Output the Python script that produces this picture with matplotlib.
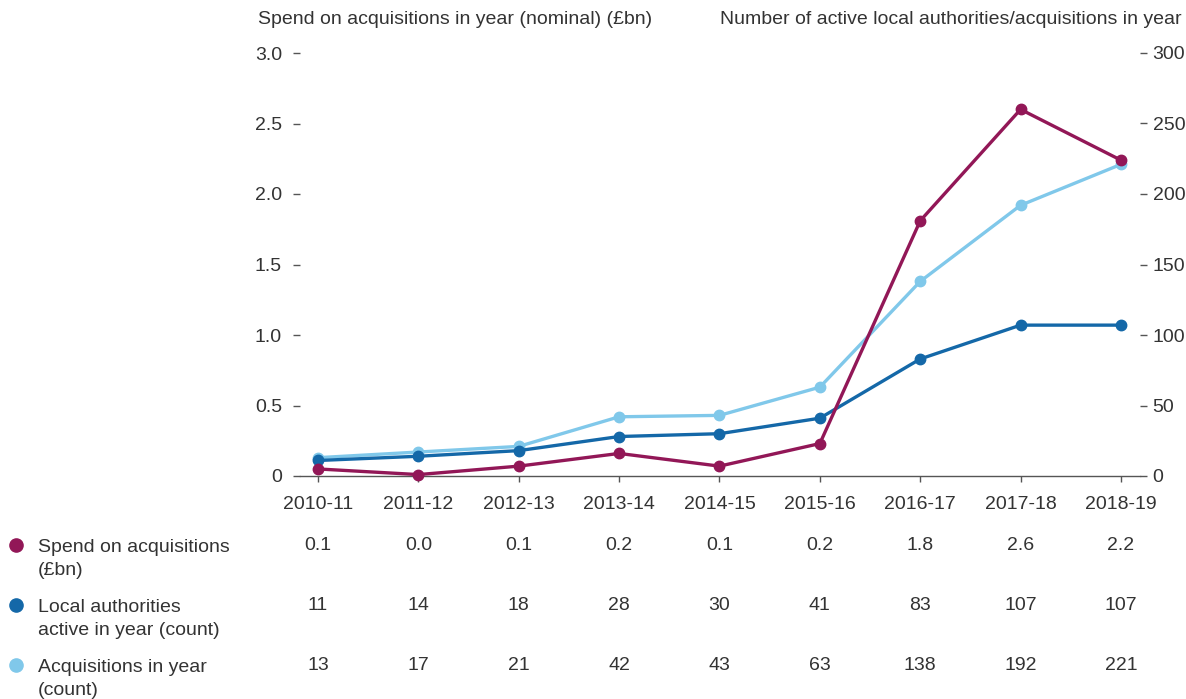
import matplotlib
matplotlib.use('Agg')
import matplotlib.pyplot as plt
import matplotlib.transforms as mtransforms

plt.rcParams['font.family'] = ['Liberation Sans', 'DejaVu Sans']

years = ['2010-11', '2011-12', '2012-13', '2013-14', '2014-15',
         '2015-16', '2016-17', '2017-18', '2018-19']
spend = [0.05, 0.01, 0.07, 0.16, 0.07, 0.23, 1.81, 2.60, 2.24]
las_active = [11, 14, 18, 28, 30, 41, 83, 107, 107]
acquisitions = [13, 17, 21, 42, 43, 63, 138, 192, 221]

spend_labels = ['0.1', '0.0', '0.1', '0.2', '0.1', '0.2', '1.8', '2.6', '2.2']

row_names = ['Spend on acquisitions\n(£bn)',
             'Local authorities\nactive in year (count)',
             'Acquisitions in year\n(count)']

maroon = '#921757'
dark_blue = '#1468a8'
light_blue = '#80c8ea'
text_col = '#333333'
axis_col = '#555555'
fs = 14

W, H = 1186, 699
fig = plt.figure(figsize=(W / 100, H / 100), dpi=100)
ax = fig.add_axes([300 / W, 1 - 476 / H, (1140 - 300) / W, (476 - 53) / H])
ax2 = ax.twinx()

x = list(range(len(years)))

ax2.plot(x, acquisitions, color=light_blue, lw=2.4, marker='o', ms=7.5, clip_on=False, zorder=3)
ax2.plot(x, las_active, color=dark_blue, lw=2.4, marker='o', ms=7.5, clip_on=False, zorder=4)
# spend on left scale, drawn on top
ax3 = ax.twinx()
ax3.set_ylim(0, 3)
ax3.axis('off')
ax3.plot(x, spend, color=maroon, lw=2.4, marker='o', ms=7.5, clip_on=False, zorder=5)

ax.set_xlim(-0.18, 8.19)
ax.set_ylim(0, 3)
ax2.set_ylim(0, 300)
ax3.set_xlim(-0.18, 8.19)

for a in (ax, ax2):
    for s in a.spines.values():
        s.set_visible(False)
ax.spines['bottom'].set_visible(True)
ax.spines['bottom'].set_color(axis_col)
ax.spines['bottom'].set_linewidth(1.0)

ax.set_xticks(x)
ax.set_xticklabels(years)
ax.set_yticks([0, 0.5, 1.0, 1.5, 2.0, 2.5, 3.0])
ax.set_yticklabels(['0', '0.5', '1.0', '1.5', '2.0', '2.5', '3.0'])
ax2.set_yticks([0, 50, 100, 150, 200, 250, 300])

ax.tick_params(axis='x', direction='out', length=4.5, width=1.0, color=axis_col,
               pad=10, labelsize=fs, labelcolor=text_col)
ax.tick_params(axis='y', direction='out', length=5, width=1.0, color=axis_col,
               pad=8, labelsize=fs, labelcolor=text_col)
ax2.tick_params(axis='y', direction='out', length=5, width=1.0, color=axis_col,
                pad=4, labelsize=fs, labelcolor=text_col)

fig.text(258 / W, 1 - 20 / H, 'Spend on acquisitions in year (nominal) (£bn)',
         ha='left', va='center', fontsize=fs, color=text_col)
fig.text(1182 / W, 1 - 20 / H, 'Number of active local authorities/acquisitions in year',
         ha='right', va='center', fontsize=fs, color=text_col)

# data table below chart
trans = mtransforms.blended_transform_factory(ax.transData, fig.transFigure)
rows = [spend_labels, [str(v) for v in las_active], [str(v) for v in acquisitions]]
row_y = [545, 605, 665]
colors = [maroon, dark_blue, light_blue]
for vals, yy, name, c in zip(rows, row_y, row_names, colors):
    for xi, v in zip(x, vals):
        ax.text(xi, 1 - yy / H, v, transform=trans, ha='center', va='center',
                fontsize=fs, color=text_col)
    fig.text(38 / W, 1 - (yy - 6) / H, name, ha='left', va='top',
             fontsize=fs, color=text_col, linespacing=1.45)
    fig.add_artist(plt.Line2D([16 / W], [1 - yy / H], marker='o', ms=9.5,
                              color=c, transform=fig.transFigure))

fig.savefig('out.png', dpi=100)
